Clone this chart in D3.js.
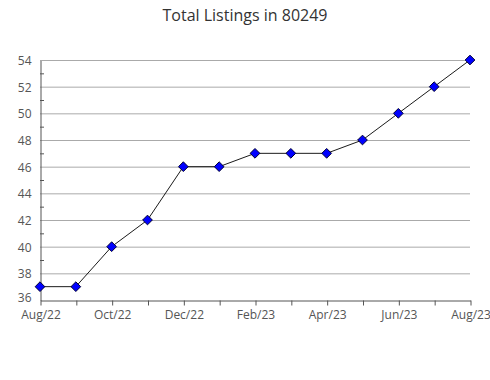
<!DOCTYPE html>
<html><head><meta charset="utf-8">
<script src="https://cdn.jsdelivr.net/npm/d3@7"></script>
<style>body{margin:0;background:#fff}svg{display:block}</style>
</head><body>
<svg id="c" width="490" height="380"></svg>
<script>
const months = ["Aug/22","Sep/22","Oct/22","Nov/22","Dec/22","Jan/23","Feb/23","Mar/23","Apr/23","May/23","Jun/23","Jul/23","Aug/23"];
const listings = [37,37,40,42,46,46,47,47,47,48,50,52,54];
const yTicks = [36,38,40,42,44,46,48,50,52,54];
const yMinor = [37,39,41,43,45,47,49,51,53];
const title = "Total Listings in 80249";

const svg = d3.select("#c");
const font = "'Open Sans', sans-serif";
const m = {l:40, r:470, t:60, b:300};
const x = d3.scalePoint().domain(months).range([m.l, m.r]);
const y = d3.scaleLinear().domain([36,54]).range([m.b, m.t]);

svg.append("text").attr("x",245).attr("y",21).attr("text-anchor","middle")
  .attr("font-family",font).attr("font-size",16).attr("fill","#333").text(title);

// gridlines
svg.append("g").selectAll("line").data(yTicks.slice(1)).join("line")
  .attr("x1",m.l).attr("x2",m.r).attr("y1",d=>y(d)+0.5).attr("y2",d=>y(d)+0.5)
  .attr("stroke","#aaa").attr("stroke-width",1);

// y axis
const ya = svg.append("g").attr("transform",`translate(${m.l+0.5},0.5)`)
  .call(d3.axisLeft(y).tickValues(yTicks).tickSize(0).tickPadding(9));
ya.select(".domain").attr("stroke","#555");
ya.selectAll("text").attr("font-family",font).attr("font-size",12).attr("fill","#555")
  .attr("dy", d => d === 36 ? "0.05em" : "0.32em");
svg.append("g").selectAll("line").data(yMinor).join("line")
  .attr("x1",m.l).attr("x2",m.l+4).attr("y1",d=>y(d)+0.5).attr("y2",d=>y(d)+0.5)
  .attr("stroke","#555");

// x axis
const xa = svg.append("g").attr("transform",`translate(0.5,${m.b+0.5})`)
  .call(d3.axisBottom(x).tickSize(5).tickSizeOuter(0).tickPadding(5)
    .tickFormat((d,i)=> i%2===0 ? d : ""));
xa.select(".domain").attr("stroke","#555");
xa.selectAll(".tick line").attr("stroke","#555");
xa.selectAll("text").attr("font-family",font).attr("font-size",12).attr("fill","#555");

// line
const line = d3.line().x((d,i)=>x(months[i])).y(d=>y(d));
svg.append("path").datum(listings).attr("d",line).attr("fill","none")
  .attr("stroke","#000").attr("stroke-width",0.9);

svg.append("g").selectAll("path").data(listings).join("path")
  .attr("transform",(d,i)=>`translate(${x(months[i])},${y(d)})`)
  .attr("d",d3.symbol(d3.symbolDiamond2,60)())
  .attr("fill","#0000ff").attr("stroke","#000033").attr("stroke-width",1)
  .attr("stroke-linejoin","round");
</script>
</body></html>
